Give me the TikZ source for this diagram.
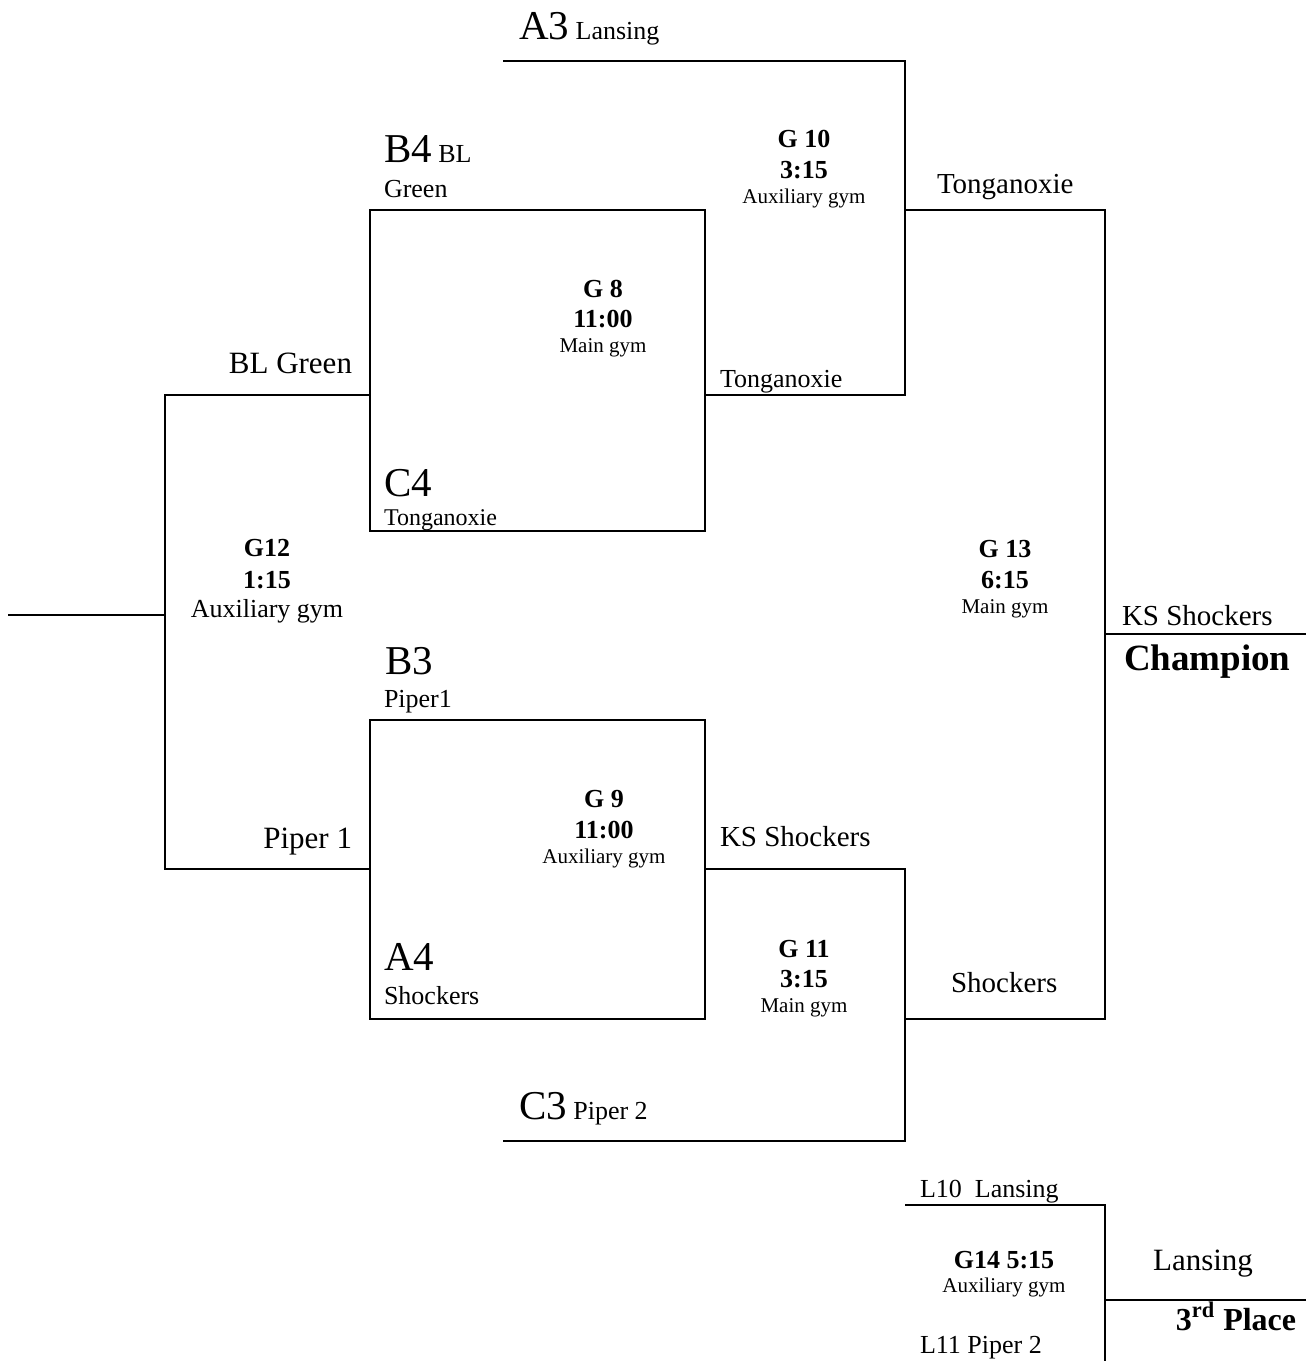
\documentclass[tikz,border=0pt]{standalone}
\usepackage{fontspec}
\setmainfont{Liberation Serif}
\newcommand\seedsize{\fontsize{20.5}{24}\selectfont}

\begin{document}
\begin{tikzpicture}[x=0.5pt, y=-0.5pt, line width=1pt,
  every node/.style={inner sep=0pt, anchor=base west},
  seedlbl/.style={font=\seedsize},
  teamlbl/.style={font=\fontsize{13}{15}\selectfont},
  winlbl/.style={font=\fontsize{14.5}{17}\selectfont},
  sidelbl/.style={font=\fontsize{15.5}{18}\selectfont},
  gamelbl/.style={anchor=base, font=\fontsize{13}{15}\selectfont\bfseries},
  gymlbl/.style={anchor=base, font=\fontsize{10.5}{12}\selectfont}]
  \useasboundingbox (0,0) rectangle (1306,1361);

  % bracket corners
  \coordinate (a3in) at (503,61);
  \coordinate (g10r) at (905,395);
  \coordinate (g8out) at (705,395);
  \coordinate (g8nw) at (370,210);
  \coordinate (g8se) at (705,531);
  \coordinate (g9nw) at (370,720);
  \coordinate (g9se) at (705,1019);
  \coordinate (g9out) at (705,869);
  \coordinate (g11r) at (905,1141);
  \coordinate (c3in) at (503,1141);
  \coordinate (g10out) at (905,210);
  \coordinate (g11out) at (905,1019);
  \coordinate (g13r) at (1105,1019);
  \coordinate (champ) at (1306,634);
  \coordinate (g12t) at (370,395);
  \coordinate (g12m) at (165,615);
  \coordinate (g12b) at (370,869);
  \coordinate (g12out) at (8,615);
  \coordinate (l10in) at (905,1205);
  \coordinate (g14b) at (1105,1361);
  \coordinate (third) at (1306,1300);

  \draw (a3in) -| (g10r) -- (g8out);
  \draw (g8nw) rectangle (g8se);
  \draw (g9nw) rectangle (g9se);
  \draw (g9out) -| (g11r) -- (c3in);
  \draw (g10out) -| (g13r) -- (g11out);
  \draw (g13r |- champ) -- (champ);
  \draw (g12t) -| (g12m) |- (g12b);
  \draw (g12m) -- (g12out);
  \draw (l10in) -| (g14b);
  \draw (g14b |- third) -- (third);

  % teams
  \node[teamlbl] (a3) at (518,39) {{\seedsize A3} Lansing};
  \node[teamlbl] (b4) at (383,162) {{\seedsize B4} BL};
  \node[teamlbl] (b4n) at (383,197) {Green};
  \node[sidelbl, anchor=base east] (blg) at (353,373) {BL Green};
  \node[teamlbl] (tong8) at (719,387) {Tonganoxie};
  \node[seedlbl] (c4) at (383,496) {C4};
  \node[font=\fontsize{12}{14}\selectfont] (c4n) at (383,525) {Tonganoxie};
  \node[winlbl] (tong10) at (936,193) {Tonganoxie};
  \node[winlbl] (ksch) at (1121,625) {KS Shockers};
  \node[font=\fontsize{18.5}{22}\selectfont\bfseries] (champion) at (1123,670) {Champion};
  \node[seedlbl] (b3) at (384,674) {B3};
  \node[teamlbl] (b3n) at (383,707) {Piper1};
  \node[sidelbl, anchor=base east] (pip1) at (353,848) {Piper 1};
  \node[winlbl] (ks9) at (719,846) {KS Shockers};
  \node[seedlbl] (a4) at (383,970) {A4};
  \node[teamlbl] (a4n) at (383,1004) {Shockers};
  \node[winlbl] (shock11) at (950,992) {Shockers};
  \node[teamlbl] (c3) at (518,1119) {{\seedsize C3} Piper 2};
  \node[teamlbl] (l10) at (919,1197) {L10\ \ Lansing};
  \node[teamlbl] (l11) at (919,1353) {L11 Piper 2};
  \node[sidelbl, anchor=base] (lans14) at (1203,1270) {Lansing};
  \node[font=\fontsize{16}{19}\selectfont\bfseries, anchor=base] (thirdlbl) at (1236,1330) {3\textsuperscript{rd} Place};

  % games
  \node[gamelbl] (g10) at (804,147) {G 10};
  \node[gamelbl] (g10t) at (804,178) {3:15};
  \node[gymlbl] (g10g) at (804,203) {Auxiliary gym};
  \node[gamelbl] (g8) at (603,297) {G 8};
  \node[gamelbl] (g8t) at (603,327) {11:00};
  \node[gymlbl] (g8g) at (603,352) {Main gym};
  \node[gamelbl] (g12) at (267,556) {G12};
  \node[gamelbl] (g12t) at (267,588) {1:15};
  \node[gymlbl, font=\fontsize{13}{15}\selectfont] (g12g) at (267,617) {Auxiliary gym};
  \node[gamelbl] (g13) at (1005,557) {G 13};
  \node[gamelbl] (g13t) at (1005,588) {6:15};
  \node[gymlbl] (g13g) at (1005,613) {Main gym};
  \node[gamelbl] (g9) at (604,807) {G 9};
  \node[gamelbl] (g9t) at (604,838) {11:00};
  \node[gymlbl] (g9g) at (604,863) {Auxiliary gym};
  \node[gamelbl] (g11) at (804,957) {G 11};
  \node[gamelbl] (g11t) at (804,987) {3:15};
  \node[gymlbl] (g11g) at (804,1012) {Main gym};
  \node[gamelbl] (g14) at (1004,1268) {G14 5:15};
  \node[gymlbl] (g14g) at (1004,1292) {Auxiliary gym};
\end{tikzpicture}
\end{document}
